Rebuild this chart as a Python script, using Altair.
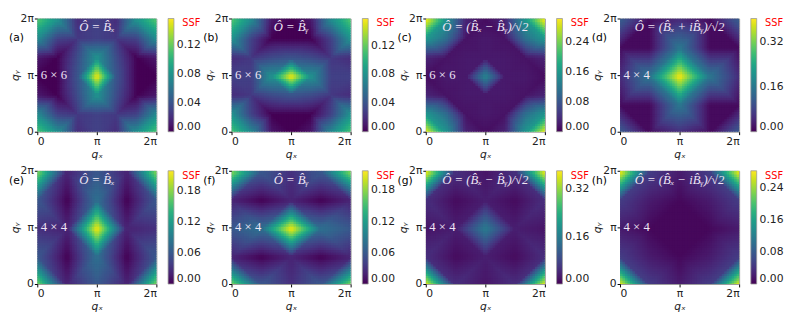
import altair as alt

# Static structure factor on the q-grid (rows: q_y = 0 .. 2pi bottom->top, cols: q_x = 0 .. 2pi)
ssf_a = [
    [0.115, 0.080, 0.020, 0.030, 0.020, 0.080, 0.115],
    [0.075, 0.030, 0.025, 0.030, 0.025, 0.030, 0.075],
    [0.010, 0.000, 0.035, 0.080, 0.035, 0.000, 0.010],
    [0.000, 0.000, 0.040, 0.157, 0.040, 0.000, 0.000],
    [0.010, 0.000, 0.035, 0.080, 0.035, 0.000, 0.010],
    [0.075, 0.030, 0.025, 0.030, 0.025, 0.030, 0.075],
    [0.115, 0.080, 0.020, 0.030, 0.020, 0.080, 0.115],
]
ssf_b = [
    [0.115, 0.075, 0.010, 0.000, 0.010, 0.075, 0.115],
    [0.080, 0.030, 0.000, 0.000, 0.000, 0.030, 0.080],
    [0.020, 0.025, 0.035, 0.040, 0.035, 0.025, 0.020],
    [0.030, 0.030, 0.080, 0.158, 0.080, 0.030, 0.030],
    [0.020, 0.025, 0.035, 0.040, 0.035, 0.025, 0.020],
    [0.080, 0.030, 0.000, 0.000, 0.000, 0.030, 0.080],
    [0.115, 0.075, 0.010, 0.000, 0.010, 0.075, 0.115],
]
ssf_c = [
    [0.303, 0.160, 0.030, 0.010, 0.030, 0.160, 0.303],
    [0.160, 0.110, 0.015, 0.020, 0.015, 0.110, 0.160],
    [0.030, 0.015, 0.020, 0.020, 0.020, 0.015, 0.030],
    [0.010, 0.020, 0.020, 0.140, 0.020, 0.020, 0.010],
    [0.030, 0.015, 0.020, 0.020, 0.020, 0.015, 0.030],
    [0.160, 0.110, 0.015, 0.020, 0.015, 0.110, 0.160],
    [0.303, 0.160, 0.030, 0.010, 0.030, 0.160, 0.303],
]
ssf_d = [
    [0.120, 0.010, 0.050, 0.010, 0.120],
    [0.010, 0.010, 0.160, 0.010, 0.010],
    [0.050, 0.160, 0.405, 0.160, 0.050],
    [0.010, 0.010, 0.160, 0.010, 0.010],
    [0.120, 0.010, 0.050, 0.010, 0.120],
]
ssf_e = [
    [0.180, 0.020, 0.060, 0.020, 0.180],
    [0.060, 0.000, 0.080, 0.000, 0.060],
    [0.030, 0.020, 0.219, 0.020, 0.030],
    [0.060, 0.000, 0.080, 0.000, 0.060],
    [0.180, 0.020, 0.060, 0.020, 0.180],
]
ssf_f = [
    [0.180, 0.060, 0.030, 0.060, 0.180],
    [0.020, 0.000, 0.020, 0.000, 0.020],
    [0.060, 0.080, 0.218, 0.080, 0.060],
    [0.020, 0.000, 0.020, 0.000, 0.020],
    [0.180, 0.060, 0.030, 0.060, 0.180],
]
ssf_g = [
    [0.383, 0.050, 0.020, 0.050, 0.383],
    [0.050, 0.010, 0.030, 0.010, 0.050],
    [0.020, 0.030, 0.160, 0.030, 0.020],
    [0.050, 0.010, 0.030, 0.010, 0.050],
    [0.383, 0.050, 0.020, 0.050, 0.383],
]
ssf_h = [
    [0.282, 0.050, 0.020, 0.050, 0.282],
    [0.050, 0.020, 0.005, 0.020, 0.050],
    [0.020, 0.005, 0.005, 0.005, 0.020],
    [0.050, 0.020, 0.005, 0.020, 0.050],
    [0.282, 0.050, 0.020, 0.050, 0.282],
]

grids = [ssf_a, ssf_b, ssf_c, ssf_d, ssf_e, ssf_f, ssf_g, ssf_h]
letters = ["(a)", "(b)", "(c)", "(d)", "(e)", "(f)", "(g)", "(h)"]
Bh = "B\u0302"
operators = [
    f"Ô = {Bh}ₓ",
    f"Ô = {Bh}ᵧ",
    f"Ô = ({Bh}ₓ − {Bh}ᵧ)/√2",
    f"Ô = ({Bh}ₓ + i{Bh}ᵧ)/√2",
    f"Ô = {Bh}ₓ",
    f"Ô = {Bh}ᵧ",
    f"Ô = ({Bh}ₓ − {Bh}ᵧ)/√2",
    f"Ô = ({Bh}ₓ − i{Bh}ᵧ)/√2",
]
sizes = ["6 × 6", "6 × 6", "6 × 6", "4 × 4", "4 × 4", "4 × 4", "4 × 4", "4 × 4"]
cbar_ticks = [
    [0, 0.04, 0.08, 0.12],
    [0, 0.04, 0.08, 0.12],
    [0, 0.08, 0.16, 0.24],
    [0, 0.16, 0.32],
    [0, 0.06, 0.12, 0.18],
    [0, 0.06, 0.12, 0.18],
    [0, 0.16, 0.32],
    [0, 0.08, 0.16, 0.24],
]
q_ticks = [0, 1, 2]  # in units of pi

M = 48
W, H = 122, 116


def panel(idx, row):
    grid = grids[idx]
    N = len(grid) - 1
    vmax = max(max(r) for r in grid)
    coarse = [{"k": i * 100 + j, "v": grid[j][i]} for j in range(N + 1) for i in range(N + 1)]

    def lk(key, name):
        return dict(lookup=key,
                    from_=alt.LookupData(data=alt.InlineData(values=coarse), key="k", fields=["v"]),
                    as_=[name])

    scale = alt.Scale(scheme="viridis", domain=[0, vmax], nice=False, zero=False)
    heat = (
        alt.Chart(alt.sequence(0, M * M, as_="n"))
        .transform_calculate(cx=f"datum.n % {M}")
        .transform_calculate(cy=f"floor(datum.n / {M})")
        .transform_calculate(sx=f"(datum.cx + 0.5) * {N} / {M}")
        .transform_calculate(sy=f"(datum.cy + 0.5) * {N} / {M}")
        .transform_calculate(i="floor(datum.sx)")
        .transform_calculate(j="floor(datum.sy)")
        .transform_calculate(u="datum.sx - datum.i")
        .transform_calculate(w="datum.sy - datum.j")
        .transform_calculate(ka="datum.i * 100 + datum.j")
        .transform_calculate(kb="(datum.i + 1) * 100 + datum.j")
        .transform_calculate(kc="datum.i * 100 + datum.j + 1")
        .transform_calculate(kd="(datum.i + 1) * 100 + datum.j + 1")
        .transform_calculate(x0=f"datum.cx * 2 / {M}")
        .transform_calculate(x1=f"(datum.cx + 1.6) * 2 / {M}")
        .transform_calculate(y0=f"(datum.cy - 0.6) * 2 / {M}")
        .transform_calculate(y1=f"(datum.cy + 1) * 2 / {M}")
        .transform_lookup(**lk("ka", "va"))
        .transform_lookup(**lk("kb", "vb"))
        .transform_lookup(**lk("kc", "vc"))
        .transform_lookup(**lk("kd", "vd"))
        .transform_calculate(
            val="((datum.i + datum.j) % 2 == 0) ? "
                "(datum.u + datum.w <= 1 ? datum.va + (datum.vb - datum.va) * datum.u + (datum.vc - datum.va) * datum.w"
                " : datum.vd + (datum.vc - datum.vd) * (1 - datum.u) + (datum.vb - datum.vd) * (1 - datum.w))"
                " : (datum.u >= datum.w ? datum.va + (datum.vb - datum.va) * datum.u + (datum.vd - datum.vb) * datum.w"
                " : datum.va + (datum.vc - datum.va) * datum.w + (datum.vd - datum.vc) * datum.u)"
        )
        .mark_rect(clip=True, strokeWidth=0)
        .encode(
            x=alt.X("x0:Q", scale=alt.Scale(domain=[0, 2], nice=False, zero=False),
                    axis=alt.Axis(values=q_ticks, title="qₓ", titlePadding=2,
                                  labelExpr="datum.value == 0 ? '0' : datum.value == 1 ? 'π' : '2π'")),
            x2="x1:Q",
            y=alt.Y("y0:Q", scale=alt.Scale(domain=[0, 2], nice=False, zero=False),
                    axis=alt.Axis(values=q_ticks, title="qᵧ", titlePadding=0,
                                  labelExpr="datum.value == 0 ? '0' : datum.value == 1 ? 'π' : '2π'")),
            y2="y1:Q",
            color=alt.Color("val:Q", scale=scale,
                            legend=alt.Legend(type="gradient", title="SSF", titleColor="red",
                                              titleFontSize=10,
                                              titleFontWeight="normal", titleFont="DejaVu Sans",
                                              titleAnchor="end", titlePadding=-10,
                                              values=cbar_ticks[idx], format=".2f",
                                              gradientLength=H, gradientThickness=6,
                                              gradientStrokeColor="#999", gradientStrokeWidth=0.8,
                                              labelFontSize=11, labelFont="DejaVu Sans",
                                              labelColor="#222", labelOffset=3,
                                              labelBaseline="middle", labelOverlap=False,
                                              offset=12, padding=0)),
        )
    )
    one = alt.Data(values=[{}])
    op = alt.Chart(one).mark_text(
        text=operators[idx], font="Liberation Serif", fontStyle="italic", fontSize=13,
        color="#efe6f5", baseline="middle", align="center"
    ).encode(x=alt.datum(1.0), y=alt.datum(1.84))
    sz = alt.Chart(one).mark_text(
        text=sizes[idx], font="Liberation Serif", fontSize=13,
        color="#efe6f5", baseline="middle", align="left"
    ).encode(x=alt.datum(0.06), y=alt.datum(1.0))
    let = alt.Chart(one).mark_text(
        text=letters[idx], font="DejaVu Sans", fontSize=11, color="black",
        baseline="middle", align="left"
    ).encode(x=alt.value(-29), y=alt.value(20 if row == 0 else 11))
    return alt.layer(heat, op, sz, let).properties(width=W, height=H)


row1 = alt.hconcat(*[panel(k, 0) for k in range(4)], spacing=0).resolve_scale(color="independent")
row2 = alt.hconcat(*[panel(k, 1) for k in range(4, 8)], spacing=0).resolve_scale(color="independent")

chart = (
    alt.vconcat(row1, row2, spacing=4)
    .resolve_scale(color="independent")
    .properties(padding=0, background="white")
    .configure_view(stroke="#999", strokeWidth=1)
    .configure_axis(domain=False, grid=False, tickColor="black", tickSize=3,
                    labelFont="DejaVu Sans", labelFontSize=11, labelColor="#222", labelPadding=1,
                    titleFont="DejaVu Sans", titleFontSize=11, titleFontStyle="italic",
                    titleFontWeight="normal", titleColor="#222")
)

chart.save("out.html", embed_options={"renderer": "svg", "actions": False})
